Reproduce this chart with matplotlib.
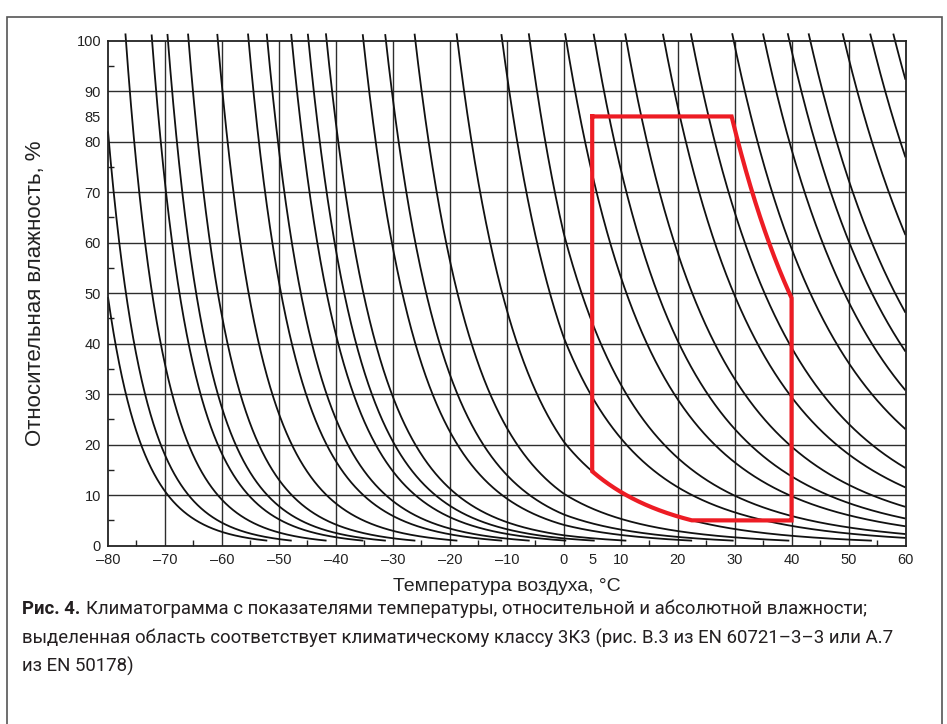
import numpy as np
import matplotlib
matplotlib.use("Agg")
import matplotlib.pyplot as plt
from matplotlib.patches import Rectangle

# абсолютная влажность для линий, г/м3
abs_hum = [0.0003, 0.0005, 0.001, 0.002, 0.003, 0.005, 0.01, 0.02, 0.03, 0.05, 0.07,
           0.1, 0.2, 0.3, 0.5, 1, 2, 3, 5, 7, 10, 15, 20, 30, 40, 50, 60, 80, 100, 120]

# границы климатического класса 3К3
t_min, t_max = 5, 40        # °C
rh_min, rh_max = 5, 85      # %
ah_min, ah_max = 1, 25      # г/м3

x_ticks = [-80, -70, -60, -50, -40, -30, -20, -10, 0, 5, 10, 20, 30, 40, 50, 60]
y_ticks = [0, 10, 20, 30, 40, 50, 60, 70, 80, 85, 90, 100]
x_minor = [-75, -65, -55, -45, -35, -25, -15, -5, 5, 15, 25, 35, 45, 55]
y_minor = [5, 15, 25, 35, 45, 55, 65, 75, 95]
x_grid = [-70, -60, -50, -40, -30, -20, -10, 0, 10, 20, 30, 40, 50]
y_grid = [10, 20, 30, 40, 50, 60, 70, 80, 90]

caption_bold = "Рис. 4."
caption = ["Климатограмма с показателями температуры, относительной и абсолютной влажности;",
           "выделенная область соответствует климатическому классу 3К3 (рис. B.3 из EN 60721–3–3 или A.7",
           "из EN 50178)"]


def ah_sat(t):
    # насыщающая абсолютная влажность (лёд ниже 0 °C), г/м3
    t = np.asarray(t, dtype=float)
    e = np.where(t < 0, 6.112 * np.exp(22.46 * t / (272.62 + t)),
                 6.112 * np.exp(17.62 * t / (243.12 + t)))
    return 216.7 * e / (t + 273.15)


plt.rcParams['font.family'] = ['Liberation Sans', 'DejaVu Sans']

fig = plt.figure(figsize=(9.47, 7.24), dpi=100)
ax = fig.add_axes([108 / 947, 1 - 545.7 / 724, (905.5 - 108) / 947, (545.7 - 40.7) / 724])

grid_c = '#2e2e2e'
for g in x_grid:
    ax.axvline(g, color=grid_c, lw=1.0, zorder=1)
for g in y_grid:
    ax.axhline(g, color=grid_c, lw=1.0, zorder=1)

t = np.linspace(-80, 60, 6000)
sat = ah_sat(t)
for a in abs_hum:
    rh = 100 * a / sat
    m = (rh >= 1.0) & (rh <= 101.5)
    ax.plot(t[m], rh[m], color='#111111', lw=1.3, zorder=2, clip_on=False,
            solid_capstyle='butt')

# область 3К3
tc = np.linspace(t_min, t_max, 4000)
sc = ah_sat(tc)
upper = np.minimum(rh_max, 100 * ah_max / sc)
lower = np.maximum(rh_min, 100 * ah_min / sc)
px = np.concatenate([tc, tc[::-1], tc[:1]])
py = np.concatenate([upper, lower[::-1], upper[:1]])
ax.plot(px, py, color='#ed1c24', lw=3.0, zorder=4, solid_joinstyle='miter')

ax.set_xlim(-80, 60)
ax.set_ylim(0, 100)
ax.set_xticks(x_ticks)
ax.set_xticklabels([str(v).replace('-', '–') for v in x_ticks])
ax.set_yticks(y_ticks)
ax.set_xticks(x_minor, minor=True)
ax.set_yticks(y_minor, minor=True)
ax.tick_params(which='major', length=0, labelsize=10.5, colors='#222222', pad=5)
ax.tick_params(which='minor', direction='in', length=4, width=1.0, color='#222222')
for s in ax.spines.values():
    s.set_color('#222222')
    s.set_linewidth(1.3)

ax.set_xlabel("Температура воздуха, °С", fontsize=14, color='#222222', labelpad=8)
ax.set_ylabel("Относительная влажность, %", fontsize=16, color='#222222', labelpad=22)

# рамка
fig.add_artist(Rectangle((7 / 947, -0.02), (942 - 7) / 947, 1.02 - 17 / 724,
                         transform=fig.transFigure, fill=False, lw=1.2, ec='#555555'))

# подпись
cap_font = ['Liberation Sans Narrow', 'Roboto', 'DejaVu Sans']
x0 = 22 / 947
ys = [1 - 609 / 724, 1 - 638 / 724, 1 - 666 / 724]
fs = 12
tb = fig.text(x0, ys[0], caption_bold, fontsize=fs, fontweight='bold', family=cap_font,
              va='center', color='#231f20')
t1 = fig.text(x0, ys[0], caption[0], fontsize=fs, family=cap_font, va='center', color='#231f20')
t2 = fig.text(x0, ys[1], caption[1], fontsize=fs, family=cap_font, va='center', color='#231f20')
t3 = fig.text(x0, ys[2], caption[2], fontsize=fs, family=cap_font, va='center', color='#231f20')
r = fig.canvas.get_renderer()
for _ in range(3):
    wb = tb.get_window_extent(r).width
    sp = fs * 100 / 72 * 0.3
    t1.set_x(x0 + (wb + sp) / 947)
    right = t1.get_window_extent(r).x1
    scale = (870 - 22) / (right - 22)
    fs = fs * scale
    for tt in (tb, t1, t2, t3):
        tt.set_fontsize(fs)
wb = tb.get_window_extent(r).width
t1.set_x(x0 + (wb + fs * 100 / 72 * 0.3) / 947)

fig.savefig("out.png", dpi=100)
